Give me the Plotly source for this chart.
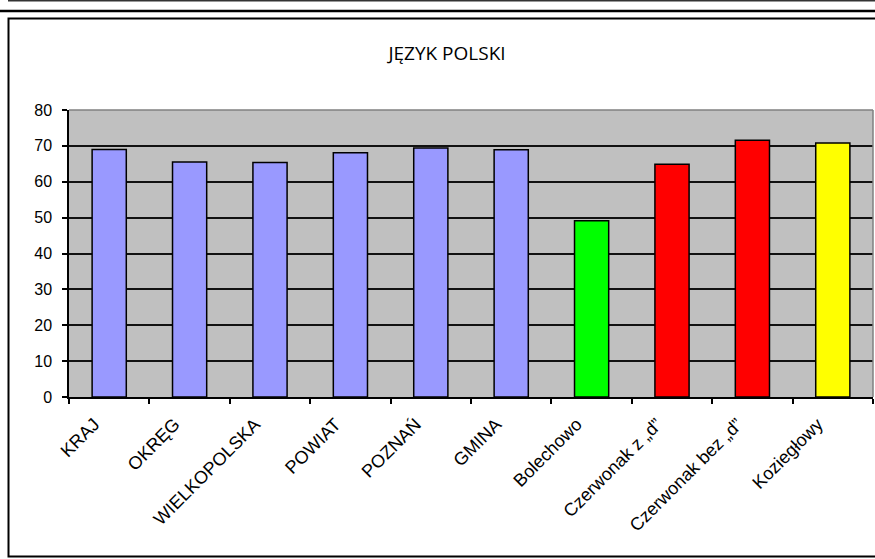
import plotly.graph_objects as go

categories = ["KRAJ", "OKRĘG", "WIELKOPOLSKA", "POWIAT", "POZNAŃ", "GMINA",
              "Bolechowo", "Czerwonak z \u201ed\u201d", "Czerwonak bez \u201ed\u201d", "Koziegłowy"]
values = [69.0, 65.5, 65.4, 68.1, 69.4, 68.9, 49.1, 64.9, 71.6, 70.8]
colors = ["#9999FF"] * 6 + ["#00FF00", "#FF0000", "#FF0000", "#FFFF00"]
y_ticks = [0, 10, 20, 30, 40, 50, 60, 70, 80]
title_text = "JĘZYK POLSKI"

W, H = 875, 559
L, R, T, B = 69, 2, 110, 162
pw, ph = W - L - R, H - T - B


def px(x):
    return (x - L) / pw


def py(y):
    return 1 - (y - T) / ph


fig = go.Figure(go.Bar(
    x=categories, y=values,
    marker=dict(color=colors, line=dict(color="black", width=1.5)),
))

shapes = [
    # outer frame lines
    dict(type="line", xref="paper", yref="paper", x0=px(8), x1=px(880), y0=py(0.8), y1=py(0.8),
         line=dict(color="#333333", width=1.5)),
    dict(type="line", xref="paper", yref="paper", x0=px(-5), x1=px(880), y0=py(11), y1=py(11),
         line=dict(color="black", width=2.5)),
    dict(type="rect", xref="paper", yref="paper", x0=px(8.5), x1=px(890), y0=py(18.5), y1=py(556.5),
         line=dict(color="black", width=2), fillcolor="rgba(0,0,0,0)", layer="below"),
    # plot area gray border (top & right)
    dict(type="line", xref="paper", yref="paper", x0=0, x1=1, y0=1, y1=1,
         line=dict(color="#808080", width=1.5), layer="above"),
    dict(type="line", xref="paper", yref="paper", x0=1, x1=1, y0=0, y1=1,
         line=dict(color="#808080", width=1.5), layer="above"),
]

fig.update_layout(
    width=W, height=H,
    margin=dict(l=L, r=R, t=T, b=B),
    paper_bgcolor="white",
    plot_bgcolor="#C0C0C0",
    bargap=0.575,
    showlegend=False,
    shapes=shapes,
    title=dict(text=title_text, xref="container", x=447 / W, xanchor="center",
               yref="container", y=1 - 53 / H, yanchor="middle",
               font=dict(family="Open Sans", size=19, color="black")),
    xaxis=dict(
        showline=True, linecolor="black", linewidth=1.5,
        ticks="outside", tickson="boundaries", ticklen=5, tickcolor="black", tickwidth=1.5,
        tickangle=-45,
        ticklabelshift=-15, ticklabelstandoff=8,
        tickfont=dict(family="Liberation Sans, Arial", size=18, color="black"),
        showgrid=False, fixedrange=True,
    ),
    yaxis=dict(
        range=[0, 80], tickvals=y_ticks,
        showline=True, linecolor="black", linewidth=1.5,
        ticks="outside", ticklen=5, tickcolor="black", tickwidth=1.5,
        ticklabelstandoff=7,
        tickfont=dict(family="Liberation Sans, Arial", size=16, color="black"),
        showgrid=True, gridcolor="#111111", gridwidth=1.5,
        zeroline=False, fixedrange=True,
    ),
)

fig.write_html("out.html", config={"displayModeBar": False},
               post_script="document.body.style.margin='0';document.body.style.overflow='hidden';")
